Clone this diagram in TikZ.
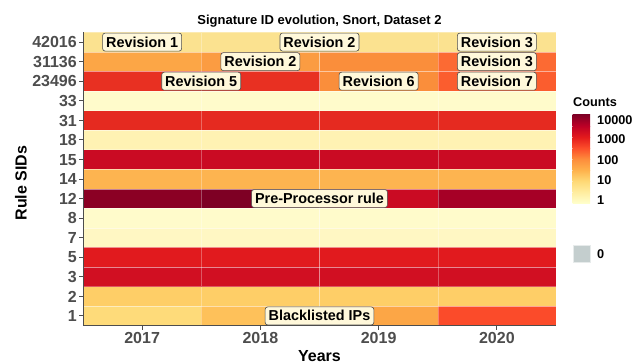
\documentclass[tikz,border=0pt]{standalone}
\usepackage{fontspec}
\setmainfont{Liberation Sans}
\usepackage{tikz}
\usetikzlibrary{positioning}
\usepackage{xcolor}
\definecolor{axisgrey}{HTML}{4D4D4D}
\definecolor{labelfill}{HTML}{FFF8DA}
\definecolor{zerogrey}{HTML}{C4CECE}
% tile colours
\definecolor{paleA}{HTML}{FFFBCB}
\definecolor{paleB}{HTML}{FFF7C3}
\definecolor{paleC}{HTML}{FFF2B3}
\definecolor{yelA}{HTML}{FBE290}
\definecolor{yelB}{HTML}{FEDB7A}
\definecolor{yelC}{HTML}{FECE67}
\definecolor{orA}{HTML}{FEC15A}
\definecolor{orB}{HTML}{FDB450}
\definecolor{orC}{HTML}{FCA646}
\definecolor{orD}{HTML}{FB9C42}
\definecolor{orE}{HTML}{FA8E3B}
\definecolor{orF}{HTML}{FC6A33}
\definecolor{orG}{HTML}{FB5D2E}
\definecolor{orH}{HTML}{FB4B2A}
\definecolor{redA}{HTML}{E83022}
\definecolor{redB}{HTML}{E52A20}
\definecolor{redC}{HTML}{E11A1E}
\definecolor{redD}{HTML}{D10F22}
\definecolor{redE}{HTML}{CA0B23}
\definecolor{darkA}{HTML}{A60026}
\definecolor{darkB}{HTML}{8B0024}
\definecolor{darkC}{HTML}{7E0024}
% YlOrRd scale for the legend bar
\definecolor{yor1}{HTML}{FFFFCC}
\definecolor{yor2}{HTML}{FFEDA0}
\definecolor{yor3}{HTML}{FED976}
\definecolor{yor4}{HTML}{FEB24C}
\definecolor{yor5}{HTML}{FD8D3C}
\definecolor{yor6}{HTML}{FC4E2A}
\definecolor{yor7}{HTML}{E31A1C}
\definecolor{yor8}{HTML}{BD0026}
\definecolor{yor9}{HTML}{800026}
\tikzstyle{tile}=[draw=white, draw opacity=0.3, line width=0.4pt]
\tikzstyle{revlabel}=[rectangle, rounded corners=2.5pt, draw=axisgrey, line width=0.6pt,
  fill=labelfill, inner xsep=3.5pt, inner ysep=4pt, text height=10pt, text depth=0pt,
  font=\fontsize{14.4}{16}\selectfont\bfseries]
\tikzstyle{ticklabel}=[inner sep=0pt, text=axisgrey, text height=11.4pt, text depth=0pt,
  font=\fontsize{16}{18}\selectfont\bfseries]
\tikzstyle{axistitle}=[inner sep=0pt, text height=11.4pt, text depth=0pt,
  font=\fontsize{16}{18}\selectfont\bfseries]
\tikzstyle{legtext}=[inner sep=0pt, anchor=west, text height=9.1pt, text depth=0pt,
  font=\fontsize{12.7}{14}\selectfont\bfseries]
\tikzstyle{axisline}=[draw=axisgrey, line width=0.9pt]

\begin{document}
\begin{tikzpicture}[x=1pt, y=1pt]
  \useasboundingbox (0,0) rectangle (633,364);
  \begin{scope}[shift={(83,38.3)}, x=118.25pt, y=19.56pt]
    % tiles, rows from SID 1 upwards
    \foreach \r/\cols in {0/{yelB,orA,orC,orH}, 1/{yelC,yelC,yelC,yelC},
        2/{redD,redD,redD,redD}, 3/{redC,redC,redC,redC}, 4/{paleB,paleB,paleB,paleB},
        5/{paleA,paleA,paleA,paleA}, 6/{darkB,darkC,redE,darkA}, 7/{orB,orB,orB,orB},
        8/{redE,redE,redE,redE}, 9/{paleC,paleC,paleC,paleC}, 10/{redB,redB,redB,redB},
        11/{paleA,paleA,paleA,paleA}, 12/{redA,redA,orE,orG}, 13/{orC,orD,orE,orF},
        14/{yelA,yelA,yelA,yelA}}
      \foreach \c [count=\j from 0] in \cols
        \filldraw[tile, fill=\c] (\j,\r) rectangle ++(1,1);
    % axes
    \draw[axisline] (0,15) -- (0,0) -- (4,0);
    \foreach \s [count=\r from 0] in {1,2,3,5,7,8,12,14,15,18,31,33,23496,31136,42016} {
      \draw[axisline] (0,\r+0.5) -- ++(-4pt,0);
      \node[ticklabel, anchor=east, xshift=-6pt] (sid\s) at (0,\r+0.5) {\s};
    }
    \foreach \yr [count=\j from 0] in {2017,2018,2019,2020} {
      \draw[axisline] (\j+0.5,0) -- ++(0,-4pt);
      \node[ticklabel, yshift=-12.6pt] (yr\yr) at (\j+0.5,0) {\yr};
    }
    \node[axistitle, yshift=-30.1pt] (years) at (2,0) {Years};
    \node[inner sep=0pt, text height=9.3pt, text depth=0pt, yshift=12.6pt,
      font=\fontsize{13}{15}\selectfont\bfseries] (title) at (2,15)
      {Signature ID evolution, Snort, Dataset 2};
    % labels
    \node[revlabel] (rev1) at (0.5,14.5) {Revision 1};
    \node[revlabel] (rev2a) at (2,14.5) {Revision 2};
    \node[revlabel] (rev3a) at (3.5,14.5) {Revision 3};
    \node[revlabel] (rev2b) at (1.5,13.5) {Revision 2};
    \node[revlabel] (rev3b) at (3.5,13.5) {Revision 3};
    \node[revlabel] (rev5) at (1,12.5) {Revision 5};
    \node[revlabel] (rev6) at (2.5,12.5) {Revision 6};
    \node[revlabel] (rev7) at (3.5,12.5) {Revision 7};
    \node[revlabel] (preproc) at (2,6.5) {Pre-Processor rule};
    \node[revlabel] (blacklist) at (2,0.5) {Blacklisted IPs};
  \end{scope}
  \node[axistitle, rotate=90] (sids) at (21,181) {Rule SIDs};
  % legend
  \node[legtext] (counts) at (573,262) {Counts};
  \foreach \a/\b [count=\k from 0] in {yor1/yor2,yor2/yor3,yor3/yor4,yor4/yor5,
      yor5/yor6,yor6/yor7,yor7/yor8,yor8/yor9}
    \shade[bottom color=\a, top color=\b] (572.5,160.7+11.04*\k) rectangle ++(17.5,11.04);
  \node[legtext] (l1) at (597,164) {1};
  \node[legtext] (l10) at (597,184.3) {10};
  \node[legtext] (l100) at (597,204.5) {100};
  \node[legtext] (l1000) at (597,224.7) {1000};
  \node[legtext] (l10000) at (597,244.5) {10000};
  \filldraw[fill=zerogrey, draw=zerogrey!40!white, line width=0.8pt] (573,101.3) rectangle (590,119);
  \node[legtext] (l0) at (597,110.2) {0};
\end{tikzpicture}
\end{document}
